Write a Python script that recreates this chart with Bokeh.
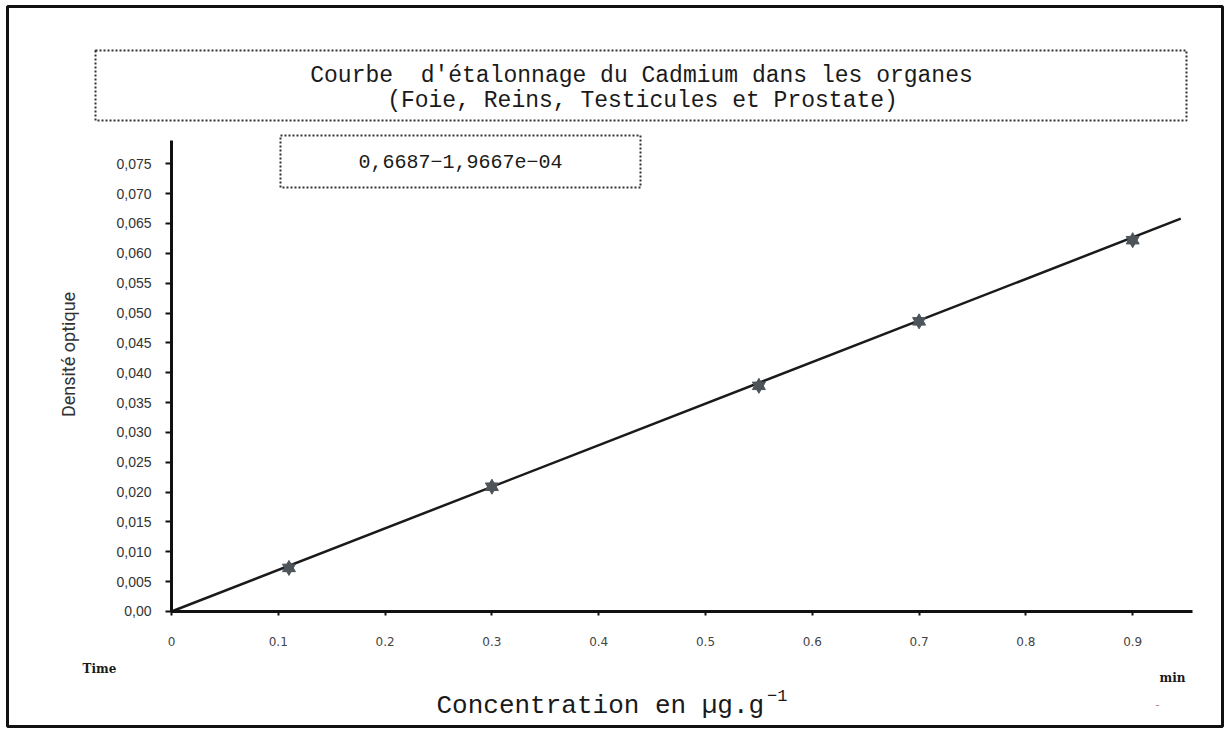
import math
from bokeh.plotting import figure
from bokeh.models import FixedTicker, Label, BoxAnnotation, Range1d, LinearAxis
from bokeh.embed import file_html
from bokeh.resources import INLINE

# ---- data ----
conc = [0.11, 0.30, 0.55, 0.70, 0.90]          # µg/g
dens = [0.0073, 0.0209, 0.0378, 0.0486, 0.0622]  # optical density
fit_x = [0.0, 0.945]
fit_y = [0.0, 0.0658]

y_ticks = [0.0, 0.005, 0.01, 0.015, 0.02, 0.025, 0.03, 0.035, 0.04,
           0.045, 0.05, 0.055, 0.06, 0.065, 0.07, 0.075]
y_tick_labels = ["0,00", "0,005", "0,010", "0,015", "0,020", "0,025", "0,030",
                 "0,035", "0,040", "0,045", "0,050", "0,055", "0,060", "0,065",
                 "0,070", "0,075"]
x_ticks = [0.0, 0.1, 0.2, 0.3, 0.4, 0.5, 0.6, 0.7, 0.8, 0.9]
x_tick_labels = ["0", "0.1", "0.2", "0.3", "0.4", "0.5", "0.6", "0.7", "0.8", "0.9"]

title_lines = ["Courbe \u00a0d'étalonnage du Cadmium dans les organes",
               "(Foie, Reins, Testicules et Prostate)"]
equation = "0,6687\u22121,9667e\u221204"
x_label = "Concentration en \u00b5g.g"
x_label_sup = "\u22121"
y_label = "Densité optique"

W, H = 1225, 729

# frame covers the whole canvas; axes sit at the data origin
p = figure(width=W, height=H, output_backend="svg", toolbar_location=None,
           x_range=Range1d(-0.1601, 0.9869), y_range=Range1d(-0.01977, 0.10235),
           x_axis_location=None, y_axis_location=None,
           min_border=0)
p.outline_line_color = None
p.grid.visible = False
p.background_fill_color = "white"
p.border_fill_color = "white"

xaxis = LinearAxis(fixed_location=0, bounds=(0, 0.956))
yaxis = LinearAxis(fixed_location=0, bounds=(0, 0.0789))
p.add_layout(xaxis, "below")
p.add_layout(yaxis, "left")

for ax in (xaxis, yaxis):
    ax.axis_line_width = 3
    ax.axis_line_color = "#111111"
    ax.major_tick_line_width = 2
    ax.major_tick_line_color = "#111111"
    ax.major_tick_in = 0
    ax.minor_tick_line_color = None

yaxis.ticker = FixedTicker(ticks=y_ticks)
yaxis.major_label_overrides = dict(zip(y_ticks, y_tick_labels))
yaxis.major_tick_out = 6
yaxis.major_label_standoff = 14
yaxis.major_label_text_font = "Liberation Sans"
yaxis.major_label_text_font_size = "14px"
yaxis.major_label_text_color = "#333333"

xaxis.ticker = FixedTicker(ticks=x_ticks)
xaxis.major_label_overrides = dict(zip(x_ticks, x_tick_labels))
xaxis.major_tick_out = 4
xaxis.major_label_standoff = 22
xaxis.major_label_text_font = "DejaVu Sans"
xaxis.major_label_text_font_size = "12px"
xaxis.major_label_text_color = "#444444"

# fitted line and points
p.line(fit_x, fit_y, line_color="#1a1a1a", line_width=2.5)
p.scatter(conc, dens, marker="triangle", size=13, fill_color="#4d555b",
          line_color="#4d555b")
p.scatter(conc, dens, marker="inverted_triangle", size=13, fill_color="#4d555b",
          line_color="#4d555b")

# ---- annotations (canvas pixel units) ----
def box(l, t, r, b, dash="2 2", width=2, color="#333333"):
    p.add_layout(BoxAnnotation(left=l, right=r, top=t, bottom=b,
                               left_units="canvas", right_units="canvas",
                               top_units="canvas", bottom_units="canvas",
                               fill_alpha=0, fill_color=None,
                               line_color=color, line_alpha=1.0,
                               line_width=width, line_dash=dash))

def label(x, y, text, font, size, color="#1a1a1a", align="center",
          baseline="middle", style="normal", angle=0.0):
    p.add_layout(Label(x=x, y=y, x_units="canvas", y_units="canvas",
                       text=text, text_font=font, text_font_size=size,
                       text_color=color, text_align=align,
                       text_baseline=baseline, text_font_style=style,
                       angle=angle))

# outer frame
box(7, 6, 1222, 726, dash="solid", width=3, color="#111111")
# title box
box(95, 50, 1186, 120)
label(641, 75, title_lines[0], "Liberation Mono", "23px")
label(642, 100, title_lines[1], "Liberation Mono", "23px")
# equation box
box(280, 135, 640, 187)
label(460, 161, equation, "Liberation Mono", "20px")

# axis titles
label(68, 354, y_label, "Roboto", "18px", color="#333333", angle=math.pi / 2)
label(436, 705, x_label, "Liberation Mono", "26px", align="left")
label(436 + 0.6 * 26 * len(x_label) + 3, 695, x_label_sup, "Liberation Mono",
      "17px", align="left")

# corner captions
label(99, 668, "Time", "DejaVu Serif", "12px", style="bold")
label(1172, 677, "min", "DejaVu Serif", "12px", style="bold")
label(1157, 703, "-", "DejaVu Sans", "11px", color="#b07070")

open("out.html", "w").write(file_html(p, INLINE))
